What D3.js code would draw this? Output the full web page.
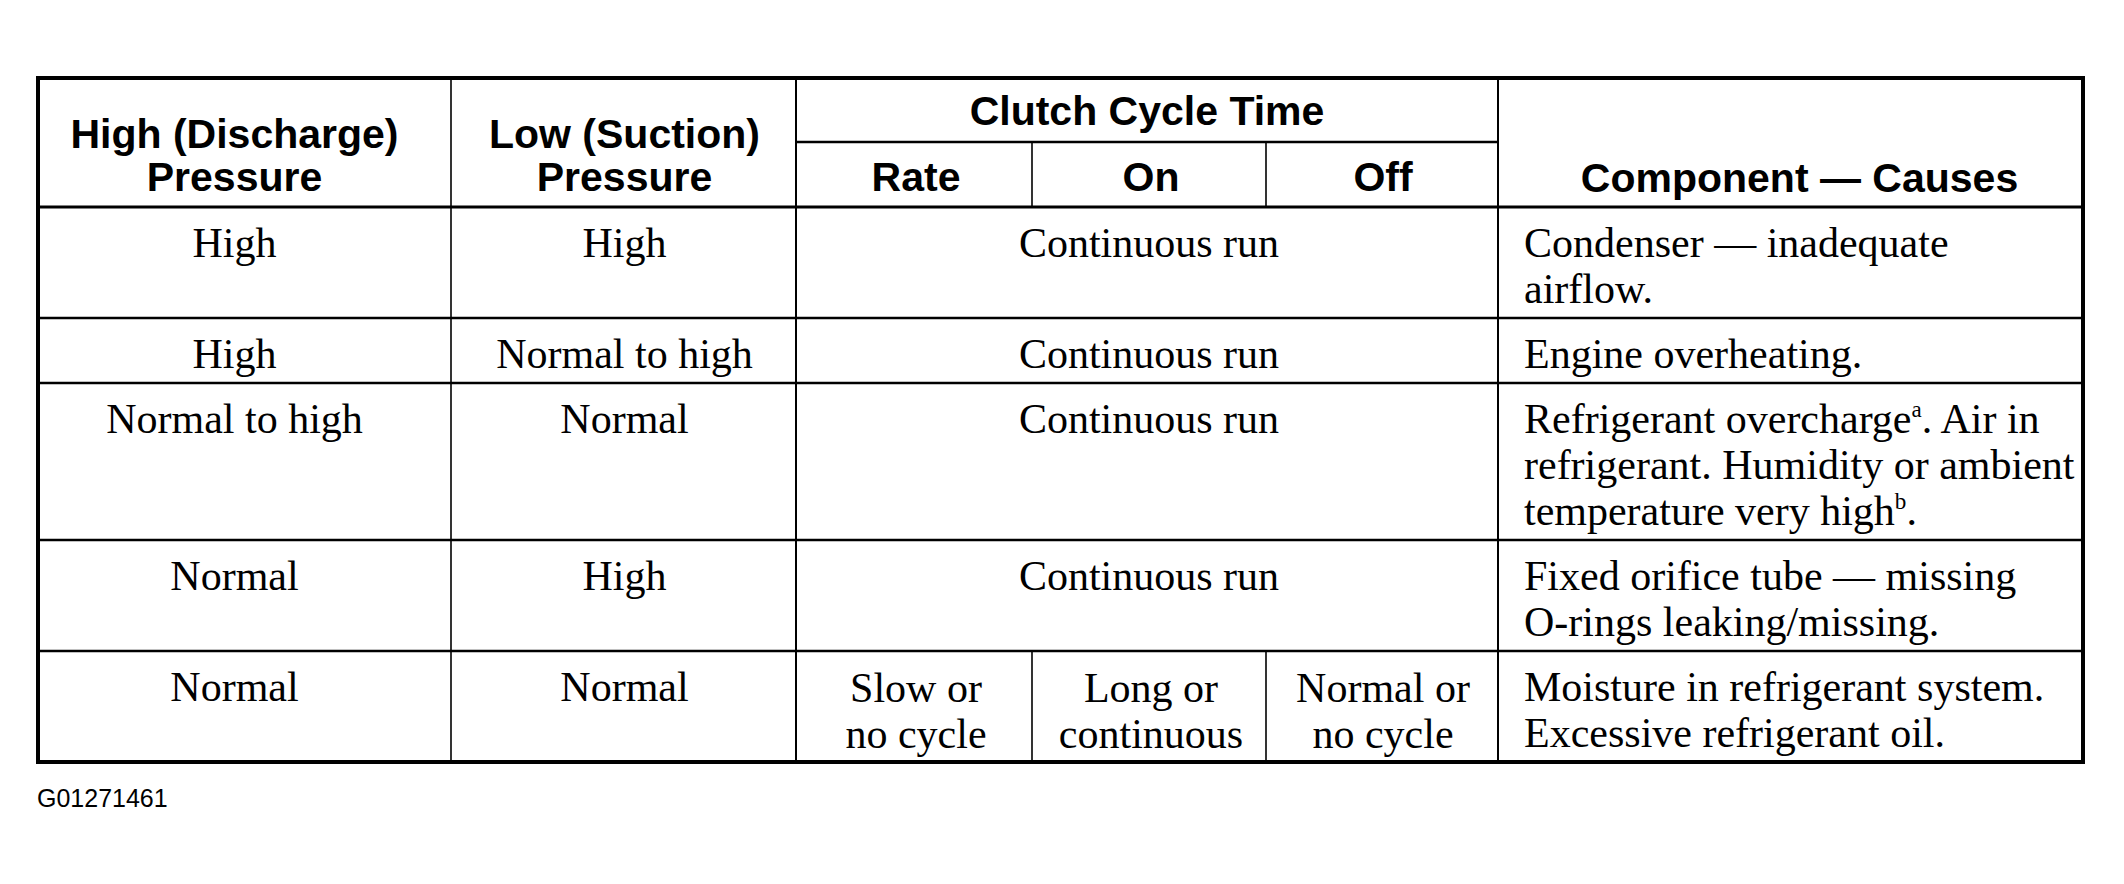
<!DOCTYPE html>
<html>
<head>
<meta charset="utf-8">
<script src="https://cdn.jsdelivr.net/npm/d3@7/dist/d3.min.js"></script>
<style>
  html, body { margin: 0; padding: 0; background: #fff; }
  svg { display: block; }
</style>
</head>
<body>
<script>
// ---------------- DATA ----------------
const headerHigh   = ["High (Discharge)", "Pressure"];
const headerLow    = ["Low (Suction)", "Pressure"];
const headerClutch = "Clutch Cycle Time";
const clutchSub    = ["Rate", "On", "Off"];
const headerCause  = "Component — Causes";

const highPressure = ["High", "High", "Normal to high", "Normal", "Normal"];
const lowPressure  = ["High", "Normal to high", "Normal", "High", "Normal"];
// merged clutch cell (null = split into Rate / On / Off)
const clutchMerged = ["Continuous run", "Continuous run", "Continuous run", "Continuous run", null];
const clutchRate   = [null, null, null, null, ["Slow or", "no cycle"]];
const clutchOn     = [null, null, null, null, ["Long or", "continuous"]];
const clutchOff    = [null, null, null, null, ["Normal or", "no cycle"]];
// ^x marks a superscript letter
const causes = [
  ["Condenser — inadequate", "airflow."],
  ["Engine overheating."],
  ["Refrigerant overcharge^a. Air in", "refrigerant. Humidity or ambient", "temperature very high^b."],
  ["Fixed orifice tube — missing", "O-rings leaking/missing."],
  ["Moisture in refrigerant system.", "Excessive refrigerant oil."]
];
const figureId = "G01271461";

// ---------------- LAYOUT ----------------
const W = 2124, H = 884;
const colWidths = [413, 345, 236, 234, 232, 585];   // layout units (px)
const tableLeft = 38, tableTop = 78;
const headerH1 = 64, headerH2 = 65;                  // clutch title row / sub row
const lineH = 46, rowPad = 19;
const serif = "'Liberation Serif', 'Times New Roman', serif";
const sans  = "'Liberation Sans', Arial, Helvetica, sans-serif";
const bodySize = 42, headSize = 41;

const svg = d3.select("body").append("svg").attr("width", W).attr("height", H);

// x scale: cumulative column units -> pixels
const totalUnits = d3.sum(colWidths);
const x = d3.scaleLinear().domain([0, totalUnits]).range([tableLeft, tableLeft + totalUnits]);
const edges = [0];
colWidths.forEach(w => edges.push(edges[edges.length - 1] + w));
const colX = i => x(edges[i]);
const colC = (i, j = i) => (colX(i) + colX(j + 1)) / 2;
const textOffset = [-10, 1, 2, 2, 1, 9];

// y: rows by line count (piecewise scale: row index -> top pixel)
const rowLines = causes.map((c, i) => Math.max(c.length, (clutchRate[i] || []).length, 1));
const headerBottom = tableTop + headerH1 + headerH2;
const rowTops = [headerBottom];
rowLines.forEach(n => rowTops.push(rowTops[rowTops.length - 1] + rowPad + lineH * n));
const y = d3.scaleLinear().domain(d3.range(rowTops.length)).range(rowTops);
const tableBottom = y(rowTops.length - 1);
const tableRight = colX(colWidths.length);

const g = svg.append("g");

function line(x1, y1, x2, y2, w) {
  g.append("line").attr("x1", x1).attr("y1", y1).attr("x2", x2).attr("y2", y2)
    .attr("stroke", "#000").attr("stroke-width", w);
}

function addText(lines, cx, baseline, opts) {
  const t = g.append("text")
    .attr("x", cx).attr("y", baseline)
    .attr("text-anchor", opts.anchor || "middle")
    .attr("font-family", opts.family)
    .attr("font-size", opts.size)
    .attr("font-weight", opts.weight || "normal")
    .attr("fill", "#000");
  lines.forEach((ln, k) => {
    const parts = ln.split(/\^(\w)/);
    parts.forEach((p, m) => {
      if (p === "") return;
      const ts = t.append("tspan").text(p);
      if (m === 0) ts.attr("x", cx).attr("dy", k === 0 ? 0 : opts.lh);
      if (m % 2 === 1) {
        ts.attr("font-size", opts.size * 0.55).attr("dy", -opts.size * 0.38);
      } else if (m > 0) {
        ts.attr("dy", opts.size * 0.38);
      }
    });
  });
}

// ----- header texts -----
const hOpts = { family: sans, size: headSize, weight: "bold", lh: 43 };
addText(headerHigh, colC(0) + textOffset[0], tableTop + 70, hOpts);
addText(headerLow, colC(1) + textOffset[1], tableTop + 70, hOpts);
addText([headerClutch], colC(2, 4), tableTop + 47, hOpts);
clutchSub.forEach((s, i) => addText([s], colC(2 + i) + textOffset[2 + i], tableTop + 113, hOpts));
addText([headerCause], colC(5) + textOffset[5], tableTop + 114, hOpts);

// ----- body texts -----
const bOpts = { family: serif, size: bodySize, lh: lineH };
const first = i => y(i) + 50;
highPressure.forEach((v, i) => addText([v], colC(0) + textOffset[0], first(i), bOpts));
lowPressure.forEach((v, i) => addText([v], colC(1) + textOffset[1], first(i), bOpts));
clutchMerged.forEach((v, i) => { if (v) addText([v], colC(2, 4) + 2, first(i), bOpts); });
[clutchRate, clutchOn, clutchOff].forEach((arr, j) => {
  arr.forEach((v, i) => { if (v) addText(v, colC(2 + j) + textOffset[2 + j], first(i) + 1, bOpts); });
});
causes.forEach((v, i) => addText(v, colX(5) + 26, first(i), Object.assign({ anchor: "start" }, bOpts)));

// ----- grid lines -----
for (let i = 1; i < rowTops.length - 1; i++) line(tableLeft, y(i), tableRight, y(i), 2.6);
line(tableLeft, headerBottom, tableRight, headerBottom, 3);
// clutch title underline
line(colX(2), tableTop + headerH1, colX(5), tableTop + headerH1, 2.6);
// full-height verticals
line(colX(1), tableTop, colX(1), tableBottom, 1.6);
line(colX(2), tableTop, colX(2), tableBottom, 2);
line(colX(5), tableTop, colX(5), tableBottom, 2);
// split clutch verticals in sub-header and split rows
[3, 4].forEach(c => {
  line(colX(c), tableTop + headerH1, colX(c), headerBottom, 1.6);
  clutchRate.forEach((v, i) => { if (v) line(colX(c), y(i), colX(c), y(i + 1), 1.6); });
});
// outer border
g.append("rect").attr("x", tableLeft).attr("y", tableTop)
  .attr("width", tableRight - tableLeft).attr("height", tableBottom - tableTop)
  .attr("fill", "none").attr("stroke", "#000").attr("stroke-width", 4);

// figure id
g.append("text").attr("x", tableLeft - 1).attr("y", tableBottom + 45)
  .attr("font-family", sans).attr("font-size", 25).attr("fill", "#000")
  .text(figureId);
</script>
</body>
</html>
